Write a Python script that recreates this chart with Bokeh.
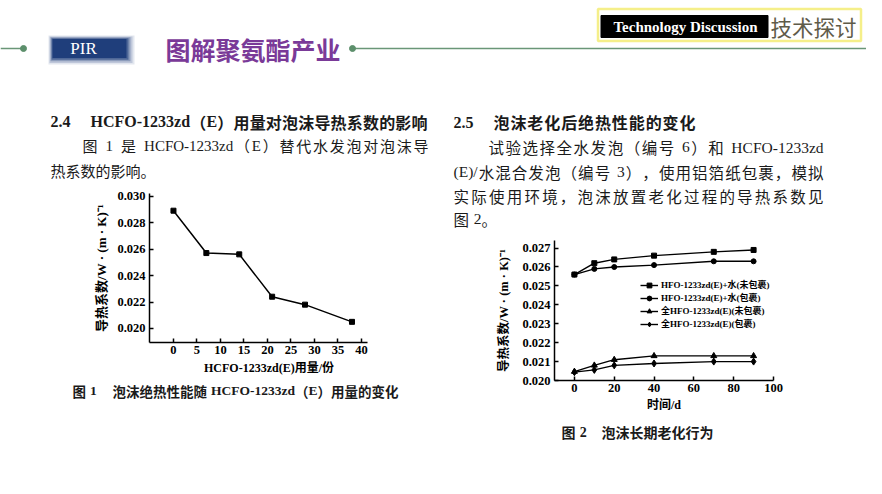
from bokeh.plotting import figure
from bokeh.layouts import column, row
from bokeh.models import Range1d, FixedTicker, NumeralTickFormatter
from bokeh.embed import file_html
from bokeh.resources import INLINE
from bokeh.core.properties import value

# ---------------- data ----------------
# Figure 1: thermal conductivity vs HCFO-1233zd(E) dosage
fig1_dosage = [0, 7, 14, 21, 28, 38]
fig1_k = [0.0289, 0.0257, 0.0256, 0.0224, 0.0218, 0.0205]
fig1_xticks = [0, 5, 10, 15, 20, 25, 30, 35, 40]
fig1_yticks = [0.020, 0.022, 0.024, 0.026, 0.028, 0.030]

# Figure 2: long-term ageing
fig2_days = [0, 10, 20, 40, 70, 90]
fig2_mix_open = [0.0256, 0.0262, 0.0264, 0.0266, 0.0268, 0.0269]
fig2_mix_wrapped = [0.0256, 0.0259, 0.0260, 0.0261, 0.0263, 0.0263]
fig2_hfo_open = [0.02047, 0.0208, 0.0211, 0.0213, 0.0213, 0.0213]
fig2_hfo_wrapped = [0.02044, 0.02056, 0.0208, 0.0209, 0.0210, 0.0210]
fig2_labels = ["HFO-1233zd(E)+水(未包裹)", "HFO-1233zd(E)+水(包裹)",
               "全HFO-1233zd(E)(未包裹)", "全HFO-1233zd(E)(包裹)"]
fig2_markers = ["square", "circle", "triangle", "diamond"]
fig2_xticks = [0, 20, 40, 60, 80, 100]
fig2_yticks = [0.020, 0.021, 0.022, 0.023, 0.024, 0.025, 0.026, 0.027]

# ---------------- helpers ----------------
LAT = "Liberation Serif"
CJK = "Noto Sans CJK SC"
MIX = "Liberation Serif, Noto Sans CJK SC"
INK = "#1a1a1a"

TR = {'0': .5, '1': .5, '2': .5, '3': .5, '4': .5, '5': .5, '6': .5, '7': .5, '8': .5, '9': .5,
      '.': .25, ',': .25, '(': .333, ')': .333, '-': .333, '/': .278, '+': .564,
      'H': .722, 'C': .667, 'F': .556, 'O': .722, 'E': .611, 'z': .444, 'd': .5}
TB = {'0': .5, '1': .5, '2': .5, '3': .5, '4': .5, '5': .5, '6': .5, '7': .5, '8': .5, '9': .5,
      '.': .25, ',': .25, '(': .333, ')': .333, '-': .333, '/': .278, '+': .57,
      'H': .778, 'C': .722, 'F': .611, 'O': .778, 'E': .667, 'z': .444, 'd': .556}


def tokens(s):
    out, buf = [], ""
    for ch in s:
        if ch == " ":
            if buf:
                out.append(("L", buf))
                buf = ""
            out.append(("S", " "))
        elif ord(ch) < 128:
            buf += ch
        else:
            if buf:
                out.append(("L", buf))
                buf = ""
            out.append(("C", ch))
    if buf:
        out.append(("L", buf))
    return out


def jline(p, s, x0, x1, y, size, bold=False, color=INK):
    toks = tokens(s)
    tab = TB if bold else TR
    ws = []
    for k, t in toks:
        if k == "C":
            ws.append(size)
        elif k == "S":
            ws.append(0.3 * size)
        else:
            ws.append(sum(tab.get(c, 0.5) for c in t) * size)
    gap = 0.0
    if x1 is not None and len(toks) > 1:
        gap = (x1 - x0 - sum(ws)) / (len(toks) - 1)
    lx, lt, cx, ct = [], [], [], []
    x = x0
    for (k, t), w in zip(toks, ws):
        if k == "L":
            lx.append(x); lt.append(t)
        elif k == "C":
            cx.append(x); ct.append(t)
        x += w + gap
    style = "bold" if bold else "normal"
    if lt:
        p.text(x=lx, y=[y] * len(lx), text=lt, text_font=value(LAT), text_font_size=f"{size}px",
               text_font_style=style, text_color=color, text_baseline="middle", text_align="left")
    if ct:
        p.text(x=cx, y=[y] * len(cx), text=ct, text_font=value(CJK), text_font_size=f"{size}px",
               text_font_style=style, text_color=color, text_baseline="middle", text_align="left")


def blank(w, h, x0, y0):
    p = figure(width=w, height=h, x_range=Range1d(x0, x0 + w), y_range=Range1d(y0 + h, y0),
               output_backend="svg", toolbar_location=None, min_border=0,
               x_axis_type=None, y_axis_type=None, frame_align=False)
    p.grid.visible = False
    p.outline_line_color = None
    return p


def style_axes(p, tick_size, label_size):
    for ax in (p.xaxis[0], p.yaxis[0]):
        ax.axis_line_color = "black"
        ax.axis_line_width = 1.5
        ax.major_tick_line_color = "black"
        ax.major_tick_line_width = 1.5
        ax.major_tick_in = 4
        ax.major_tick_out = 0
        ax.minor_tick_line_color = None
        ax.major_label_text_font = LAT
        ax.major_label_text_font_style = "bold"
        ax.major_label_text_font_size = tick_size
        ax.major_label_text_color = "black"
        ax.axis_label_text_font = MIX
        ax.axis_label_text_font_style = "bold"
        ax.axis_label_text_font_size = label_size
        ax.axis_label_text_color = "black"
    p.grid.visible = False
    p.outline_line_color = None


# ---------------- header ----------------
hdr = blank(866, 105, 0, 0)
hdr.segment(x0=[0], y0=[48], x1=[23], y1=[48], line_color="#6a9677", line_width=1.5)
hdr.segment(x0=[352], y0=[48], x1=[866], y1=[48], line_color="#6a9677", line_width=1.5)
hdr.scatter(x=[23, 352], y=[48, 48], size=6, color="#5c8f6b")
for i, a in enumerate([0.12, 0.18, 0.3, 0.55, 0.9]):
    g = 4 - i
    hdr.rect(x=[89 + g * 0.5], y=[48 + g * 0.4], width=74 + g * 3, height=19 + g * 2.5,
             color="#1b3a78", alpha=a, line_color=None)
hdr.text(x=[83], y=[48], text=["PIR"], text_font=value(LAT), text_font_size="17px",
         text_color="white", text_align="center", text_baseline="middle")
hdr.text(x=[165], y=[48], text=["图解聚氨酯产业"], text_font=value(CJK), text_font_size="25px",
         text_font_style="bold", text_color="#7a3a98", text_baseline="middle")
hdr.rect(x=[729], y=[24.5], width=263, height=32, fill_color=None,
         line_color="#f5ef8a", line_width=2.5)
hdr.rect(x=[684], y=[26], width=167, height=22, color="black")
hdr.text(x=[685], y=[26.5], text=["Technology Discussion"], text_font=value(LAT),
         text_font_size="15px", text_font_style="bold", text_color="white",
         text_align="center", text_baseline="middle")
hdr.text(x=[770], y=[25.5], text=["技术探讨"], text_font=value(CJK), text_font_size="21.5px",
         text_color="#5f5b49", text_baseline="middle")

# ---------------- left column ----------------
t1 = blank(438, 80, 0, 105)
jline(t1, "2.4", 50, None, 121, 16, bold=True)
jline(t1, "HCFO-1233zd（E）用量对泡沫导热系数的影响", 90, 427, 121, 16, bold=True)
jline(t1, "图 1 是 HCFO-1233zd（E）替代水发泡对泡沫导", 82, 428, 145, 15)
jline(t1, "热系数的影响。", 50, None, 169.5, 15)

c1 = figure(width=438, height=195, x_range=Range1d(-5.1, 41.3), y_range=Range1d(0.01894, 0.0302),
            output_backend="svg", toolbar_location=None, frame_align=False,
            min_border_left=149, min_border_right=71, min_border_top=8, min_border_bottom=38)
style_axes(c1, "12.5px", "13px")
c1.xaxis.ticker = FixedTicker(ticks=fig1_xticks)
c1.yaxis.ticker = FixedTicker(ticks=fig1_yticks)
c1.yaxis.formatter = NumeralTickFormatter(format="0.000")
c1.xaxis.major_label_standoff = 3
c1.yaxis.major_label_standoff = 4
c1.xaxis.axis_label = "\u00a0" * 7 + "HCFO-1233zd(E)用量/份"
c1.xaxis.axis_label_text_font_size = "12px"
c1.yaxis.axis_label = "导热系数/W · (m · K)⁻¹"
c1.xaxis.axis_label_standoff = 4
c1.yaxis.axis_label_standoff = 5
c1.line(fig1_dosage, fig1_k, line_color="black", line_width=1.5)
c1.scatter(fig1_dosage, fig1_k, marker="square", size=5, color="black")

cap1 = blank(438, 98, 0, 380)
jline(cap1, "图 1", 72, None, 390, 13.5, bold=True)
jline(cap1, "泡沫绝热性能随 HCFO-1233zd（E）用量的变化", 112, 398, 390, 13.5, bold=True)

# ---------------- right column ----------------
t2 = blank(428, 130, 438, 105)
jline(t2, "2.5", 453, None, 121.5, 16, bold=True)
jline(t2, "泡沫老化后绝热性能的变化", 493, 695, 121.5, 16, bold=True)
jline(t2, "试验选择全水发泡（编号 6）和 HCFO-1233zd", 488, 823, 146.5, 15.5)
jline(t2, "(E)/水混合发泡（编号 3），使用铝箔纸包裹，模拟", 453, 823, 171, 15.5)
jline(t2, "实际使用环境，泡沫放置老化过程的导热系数见", 453, 823, 195, 15.5)
jline(t2, "图 2。", 453, None, 218.5, 15.5)

c2 = figure(width=428, height=185, x_range=Range1d(-10, 100), y_range=Range1d(0.020, 0.0274),
            output_backend="svg", toolbar_location=None, frame_align=False,
            min_border_left=116, min_border_right=93, min_border_top=5, min_border_bottom=40)
style_axes(c2, "12.5px", "12.5px")
c2.xaxis.ticker = FixedTicker(ticks=fig2_xticks)
c2.yaxis.ticker = FixedTicker(ticks=fig2_yticks)
c2.yaxis.formatter = NumeralTickFormatter(format="0.000")
c2.xaxis.major_label_standoff = 3
c2.yaxis.major_label_standoff = 4
c2.xaxis.axis_label = "时间/d"
c2.xaxis.axis_label_text_font_size = "12px"
c2.yaxis.axis_label = "导热系数/W · (m · K)⁻¹"
c2.xaxis.axis_label_standoff = 3
c2.yaxis.axis_label_standoff = 8
series2 = [fig2_mix_open, fig2_mix_wrapped, fig2_hfo_open, fig2_hfo_wrapped]
msize = [5, 5, 6, 7]
for ys, lab, mk, ms in zip(series2, fig2_labels, fig2_markers, msize):
    c2.line(fig2_days, ys, line_color="black", line_width=1.4, legend_label=lab)
    c2.scatter(fig2_days, ys, marker=mk, size=ms, color="black", legend_label=lab)
lg = c2.legend[0]
lg.location = (86, 50)
lg.padding = 0
lg.margin = 0
lg.spacing = 0
lg.glyph_width = 18
lg.glyph_height = 12
lg.label_height = 12
lg.label_standoff = 3
lg.border_line_color = None
lg.background_fill_alpha = 0
lg.label_text_font = MIX
lg.label_text_font_style = "bold"
lg.label_text_font_size = "9px"
lg.label_text_color = "black"

cap2 = blank(428, 58, 438, 420)
jline(cap2, "图 2", 561, None, 431, 14, bold=True)
jline(cap2, "泡沫长期老化行为", 601, None, 431, 14, bold=True)

layout = column(hdr,
                row(column(t1, c1, cap1, spacing=0), column(t2, c2, cap2, spacing=0), spacing=0),
                spacing=0)

open("out.html", "w").write(file_html(layout, INLINE))
